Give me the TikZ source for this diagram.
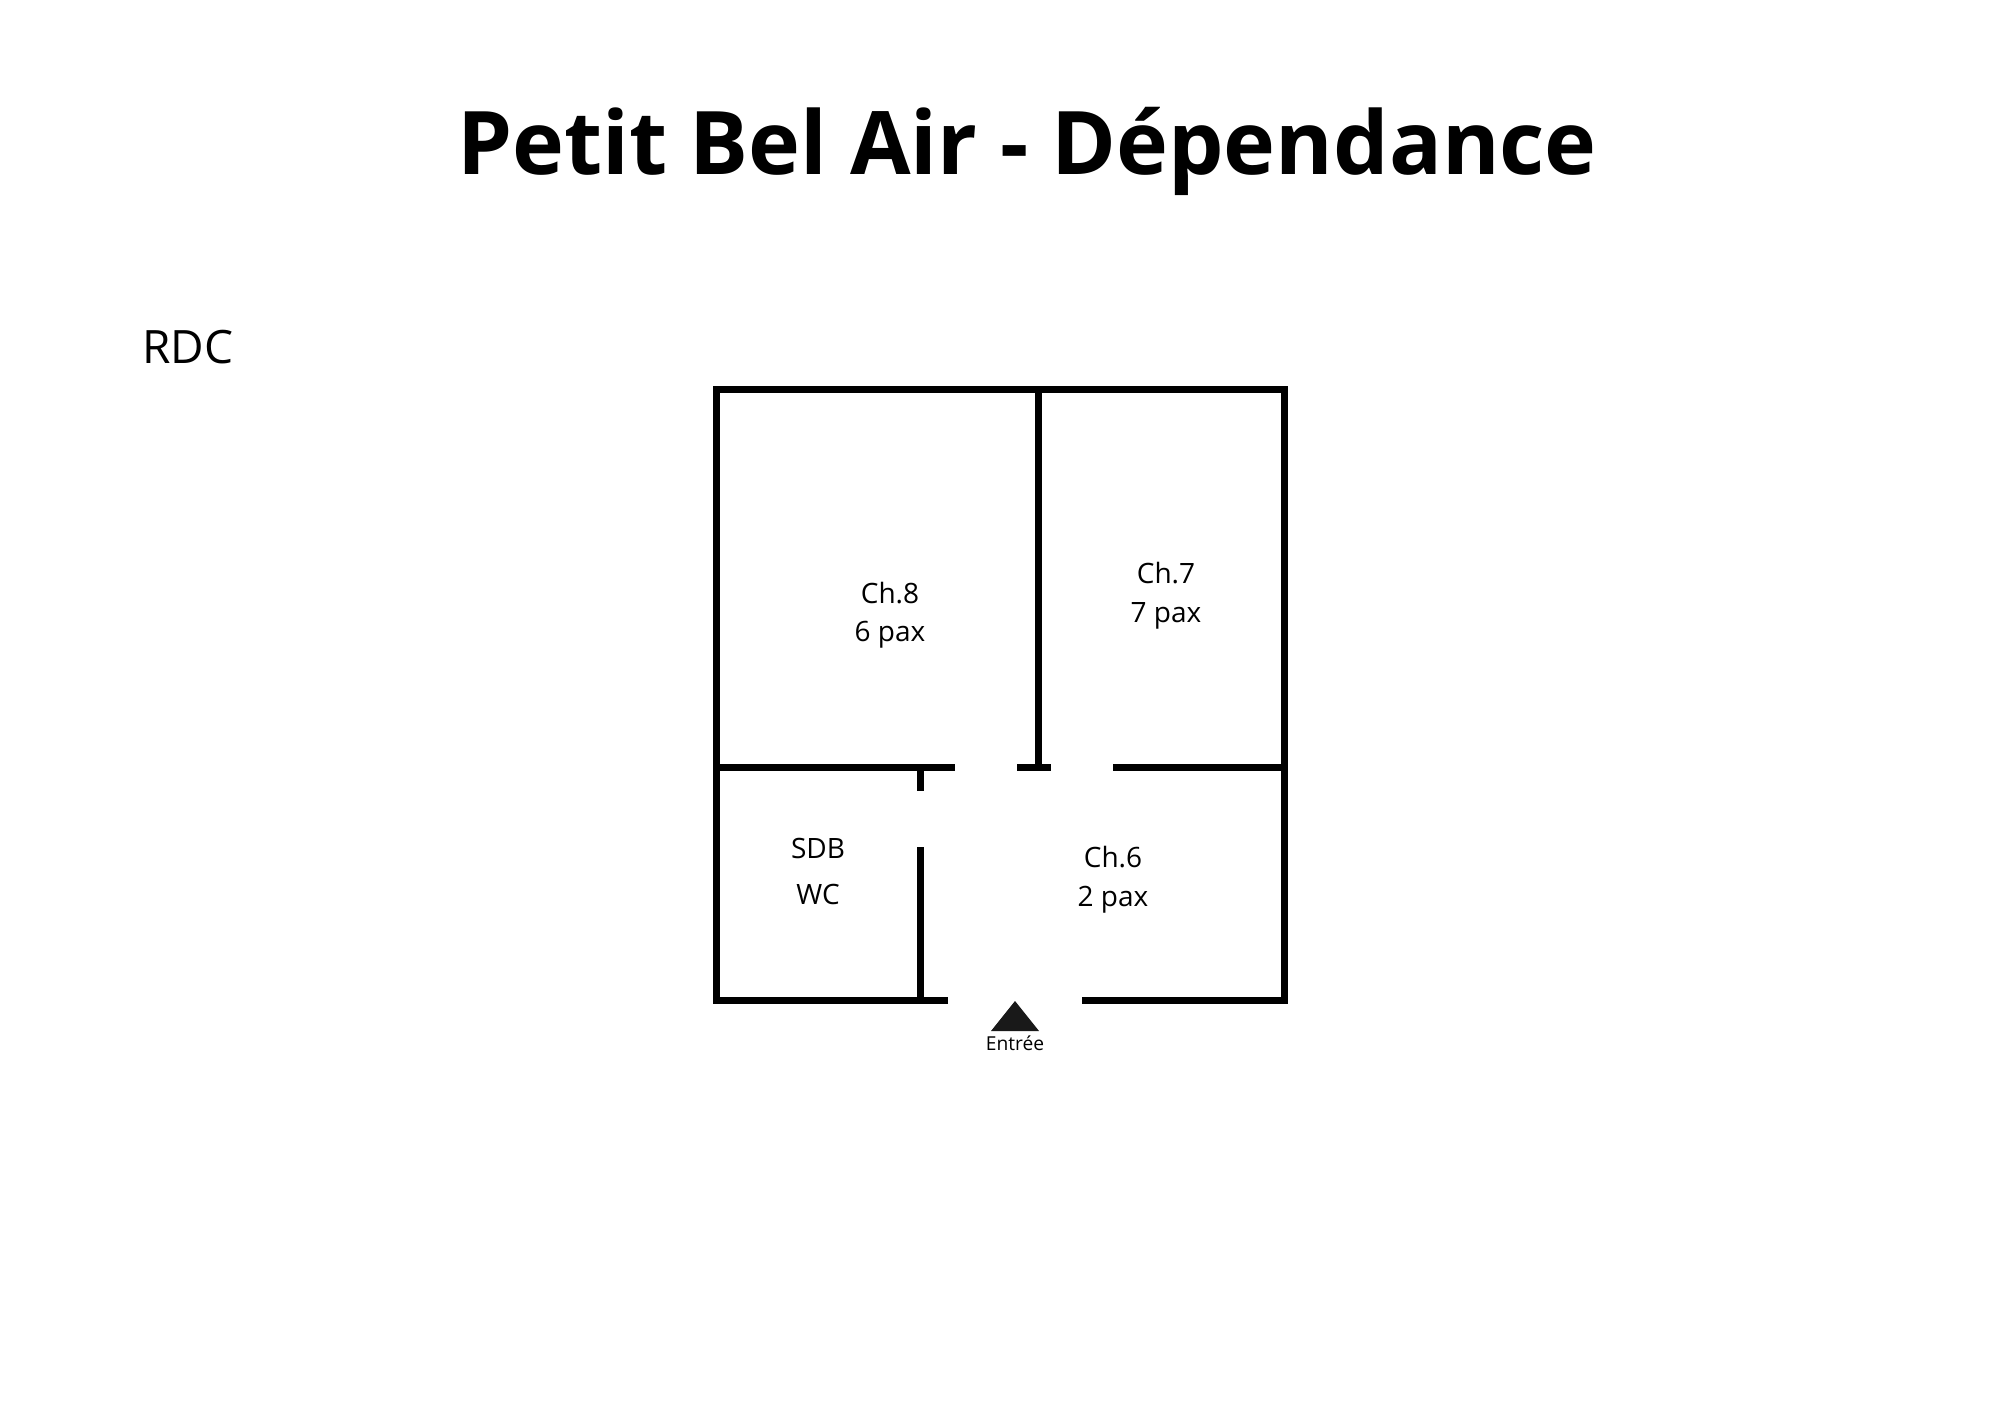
\documentclass[tikz,border=0pt]{standalone}
\usepackage{fontspec}
\setmainfont{Open Sans}
\begin{document}
\begin{tikzpicture}[x=0.5pt,y=-0.5pt,
  wall/.style={line width=3.5pt,line cap=butt,line join=miter,draw=black},
  roomlbl/.style={anchor=base,inner sep=0pt,font=\fontsize{14pt}{16pt}\selectfont},
]
\useasboundingbox (0,0) rectangle (2000,1414);
% title
\node[anchor=base,inner sep=0pt,font=\fontsize{43.9pt}{50pt}\selectfont\bfseries] (title) at (1027,174) {Petit Bel Air - Dépendance};
\node[anchor=base west,inner sep=0pt,font=\fontsize{23pt}{26pt}\selectfont] (rdc) at (142,363) {RDC};
% coordinates
\coordinate (tl) at (716,389);
\coordinate (tr) at (1284,389);
\coordinate (br) at (1284,1000);
\coordinate (bl) at (716,1000);
% outer walls
\draw[wall] (948,1000) -- (bl) -- (tl) -- (tr) -- (br) -- (1082,1000);
% divider between Ch.8 and Ch.7
\draw[wall] (1038,389) -- (1038,767);
\draw[wall] (1017,767) -- (1051,767);
% middle horizontal walls
\draw[wall] (716,767) -- (955,767);
\draw[wall] (1113,767) -- (1284,767);
% SDB wall
\draw[wall] (920,767) -- (920,791);
\draw[wall] (920,847) -- (920,1000);
% entrance triangle
\fill[black!90] (1015,1001) -- (1039,1031) -- (991,1031) -- cycle;
\node[anchor=base,inner sep=0pt,font=\fontsize{9.6pt}{11pt}\selectfont] (entree) at (1015,1050) {Entrée};
% room labels
\node[roomlbl] (ch8) at (890,603) {Ch.8};
\node[roomlbl] (ch8p) at (890,641) {6 pax};
\node[roomlbl] (ch7) at (1166,583) {Ch.7};
\node[roomlbl] (ch7p) at (1166,622) {7 pax};
\node[roomlbl] (sdb) at (818,858) {SDB};
\node[roomlbl] (wc) at (818,904) {WC};
\node[roomlbl] (ch6) at (1113,867) {Ch.6};
\node[roomlbl] (ch6p) at (1113,906) {2 pax};
\end{tikzpicture}
\end{document}
